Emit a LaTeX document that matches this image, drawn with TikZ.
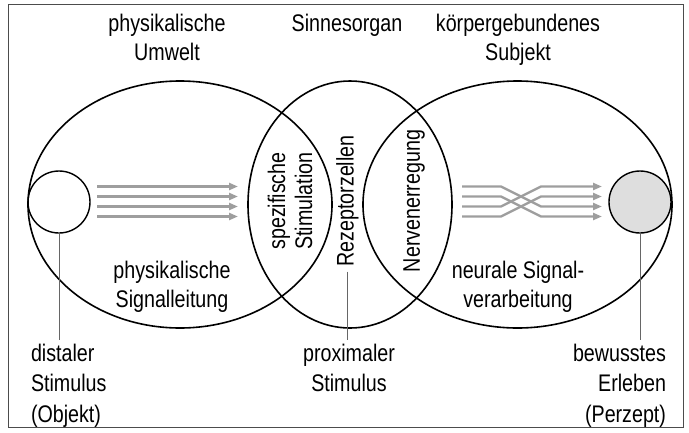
\documentclass[tikz,border=0pt]{standalone}
\usepackage{fontspec}
\setmainfont{Liberation Sans}[FakeStretch=0.82]
\usetikzlibrary{shapes.geometric, arrows.meta, positioning}

\begin{document}
\begin{tikzpicture}[x=1pt, y=-1pt,
    % Styles for the regions, texts and lines
    region/.style={ellipse, draw=black, line width=1.6pt, inner sep=0pt, minimum height=247pt},
    stimulus/.style={circle, draw=black, line width=1.4pt, minimum size=62pt, inner sep=0pt},
    txt/.style={font=\fontsize{24}{29}\selectfont, inner sep=0pt, align=center},
    vtxt/.style={txt, rotate=90, font=\fontsize{24}{27}\selectfont},
    foot/.style={txt, outer sep=4pt, font=\fontsize{24}{30.5}\selectfont},
    signal/.style={draw=black!38, line width=2.4pt, line join=round, -{Triangle[length=9pt, width=7pt]}},
    leader/.style={draw=black!60, line width=1pt},
    frame/.style={draw=black!70, line width=1pt}
]
\useasboundingbox (0,0) rectangle (689,432);
\draw[frame] (8,4) rectangle (683,427);

% The three regions
\node[region, minimum width=304pt] (umwelt)  at (180,204.5) {};
\node[region, minimum width=204pt] (organ)   at (350,204.5) {};
\node[region, minimum width=309pt] (subjekt) at (517.5,204.5) {};

% Headings
\node[txt, anchor=north] (umweltlab)  at (167,14) {physikalische\\Umwelt};
\node[txt, anchor=north] (organlab)   at (347,14) {Sinnesorgan};
\node[txt, anchor=north] (subjektlab) at (518,14) {körpergebundenes\\Subjekt};

% Stimulus and percept
\node[stimulus] (distal) at (59,202) {};
\node[stimulus, fill=black!13] (perzept) at (640,202) {};

% Physical signal transmission
\foreach \y in {186.5,196.5,206.5,216.5}
    \draw[signal] (97,\y) -- (238,\y);

% Neural signal processing
\foreach \a/\b in {186.5/206.5, 206.5/186.5, 196.5/216.5, 216.5/196.5}
    \draw[signal] (462,\a) -- (501,\a) -- (541,\b) -- (602,\b);

% Texts inside the regions
\node[txt, anchor=north] (leitung) at (172,261) {physikalische\\Signalleitung};
\node[txt, anchor=north] (verarb)  at (518,261) {neurale Signal-\\verarbeitung};
\node[vtxt] (spezif) at (290,201) {spezifische\\Stimulation};
\node[vtxt, outer sep=5pt] (rezept) at (347.5,201) {Rezeptorzellen};
\node[vtxt] (nerven) at (414,201) {Nervenerregung};

% Labels below
\node[foot, anchor=north west, align=left]  (distlab) at (27,340)  {distaler\\Stimulus\\(Objekt)};
\node[foot, anchor=north]                   (proxlab) at (349,340) {proximaler\\Stimulus};
\node[foot, anchor=north east, align=right] (perzlab) at (670,340) {bewusstes\\Erleben\\(Perzept)};

% Leader lines
\draw[leader] (distal.south) -- (distal.south |- distlab.north);
\draw[leader] (rezept.west) -- (rezept.west |- proxlab.north);
\draw[leader] (perzept.south) -- (perzept.south |- perzlab.north);

\end{tikzpicture}
\end{document}
